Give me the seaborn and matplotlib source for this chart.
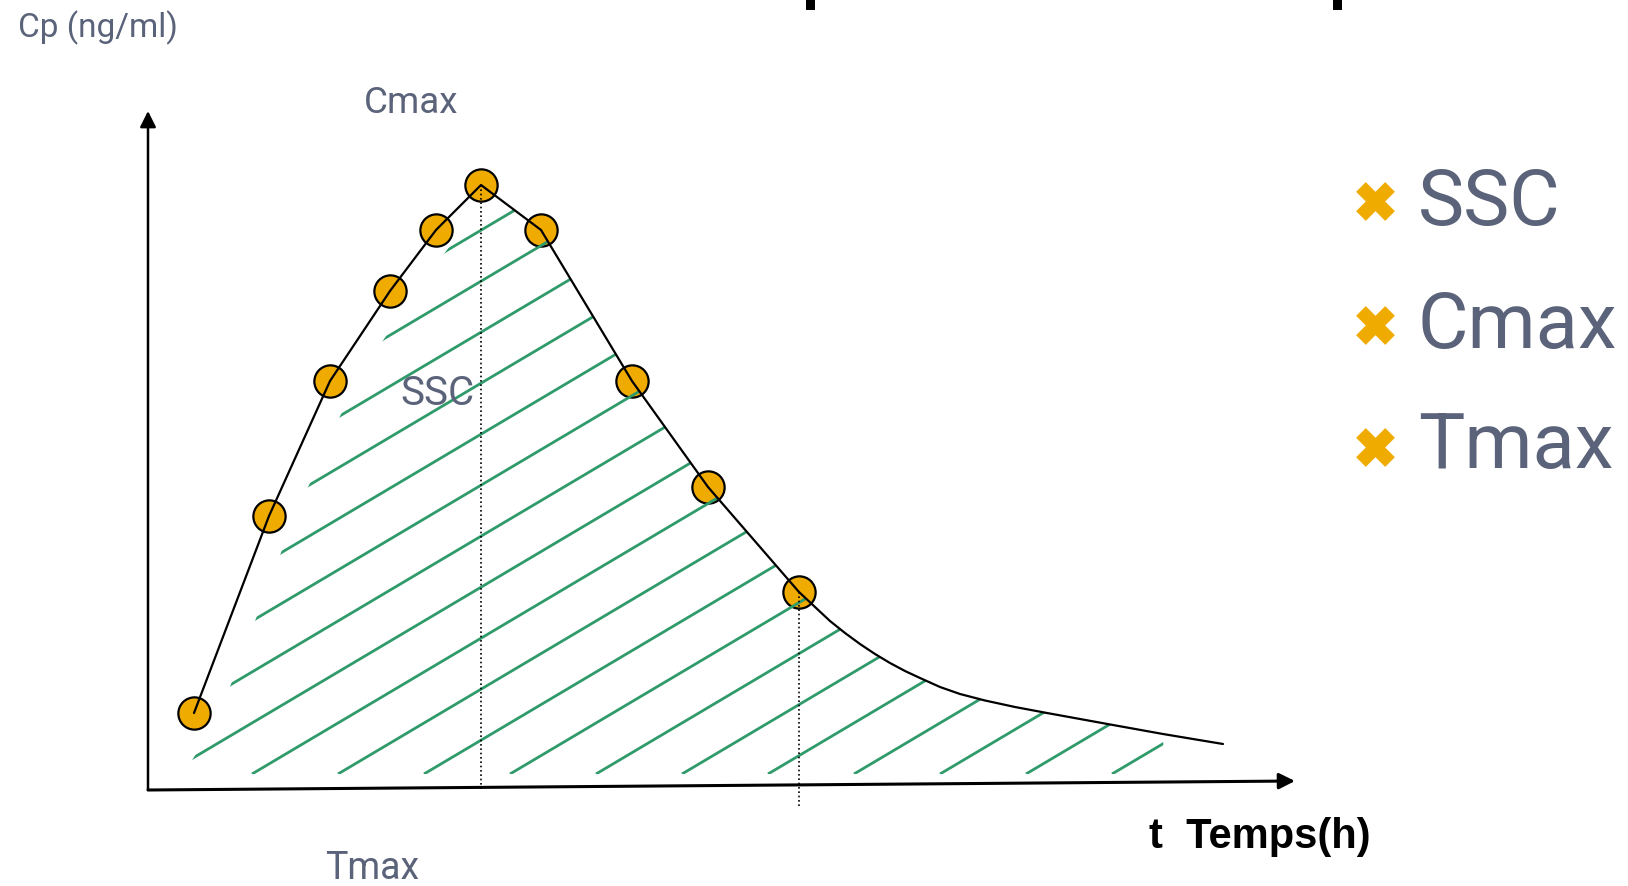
import numpy as np
import pandas as pd
import matplotlib
matplotlib.use("Agg")
import matplotlib.pyplot as plt
from matplotlib.patches import Polygon, Rectangle
import seaborn as sns

# ---------------- data ----------------
time_h = [0.46, 1.21, 1.82, 2.42, 2.88, 3.33, 3.93, 4.84, 5.60, 6.51]
cp_ngml = [7.7, 27.4, 40.9, 49.9, 56.0, 60.5, 56.0, 40.9, 30.3, 19.8]
tail_time_h = [6.67, 6.82, 6.97, 7.12, 7.27, 7.42, 7.57, 7.72, 7.92, 8.12,
               8.37, 8.67, 8.99, 9.32, 9.65, 10.15, 10.45, 10.75]
tail_cp_ngml = [18.3, 16.9, 15.7, 14.6, 13.6, 12.7, 11.9, 11.2, 10.3, 9.6,
                8.95, 8.3, 7.7, 7.1, 6.5, 5.6, 5.1, 4.6]
legend_items = ["SSC", "Cmax", "Tmax"]
y_label = "Cp (ng/ml)"
x_label = "t  Temps(h)"

# ---------------- style ----------------
sns.set_theme(style="white")
plt.rcParams["font.family"] = ["Roboto", "DejaVu Sans"]
SLATE = "#5a6379"
ORANGE = "#f0ab00"
GREEN = "#2f9a6a"

fig = plt.figure(figsize=(16.28, 8.87), dpi=100)
ax = fig.add_axes([0, 0, 1, 1])

df_pts = pd.DataFrame({"t": time_h, "cp": cp_ngml})
df_curve = pd.DataFrame({"t": time_h + tail_time_h, "cp": cp_ngml + tail_cp_ngml})

# ---------------- markers and curve ----------------
sns.scatterplot(data=df_pts, x="t", y="cp", s=540, color=ORANGE,
                edgecolor="black", linewidth=1.6, zorder=2, ax=ax, legend=False)
sns.lineplot(data=df_curve, x="t", y="cp", sort=False, estimator=None,
             color="black", lw=1.6, zorder=4, ax=ax, legend=False)
ax.set_xlim(-1.48, 14.80)
ax.set_ylim(-9.6, 79.1)
ax.axis("off")

# ---------------- hatching under the curve (SSC) ----------------
i_max = int(np.argmax(cp_ngml))
t_max = time_h[i_max]
c_max = cp_ngml[i_max]
base = 1.6
poly_pts = [(0.36, base)]
poly_pts += [(t + 0.26, c) for t, c in zip(time_h[:i_max], cp_ngml[:i_max])]
poly_pts += [(t_max, c_max)]
poly_pts += list(zip(time_h[i_max + 1:], cp_ngml[i_max + 1:]))
poly_pts += [(t, c) for t, c in zip(tail_time_h, tail_cp_ngml) if t <= 10.16]
poly_pts += [(10.16, base)]
clip = Polygon(poly_pts, closed=True, transform=ax.transData,
               facecolor="none", edgecolor="none")
ax.add_patch(clip)
slope = 5.93
for k in range(-14, 13):
    t0 = 0.18 + 0.86 * k
    ln, = ax.plot([t0, t0 + 14], [base, base + slope * 14],
                  color=GREEN, lw=2.0, zorder=3, solid_capstyle="butt")
    ln.set_clip_path(clip)

# dotted guides (Tmax, last sample)
ax.plot([t_max, t_max], [c_max, 0], linestyle=(0, (1, 1.6)), color="black", lw=1.2, zorder=3)
ax.plot([time_h[-1], time_h[-1]], [cp_ngml[-1], -1.6], linestyle=(0, (1, 1.6)),
        color="black", lw=1.2, zorder=3)

# axes arrows
ax.annotate("", xy=(0, 67.9), xytext=(0, 0),
            arrowprops=dict(arrowstyle="-|>", color="black", lw=1.8,
                            mutation_scale=24, shrinkA=0, shrinkB=0))
ax.annotate("", xy=(11.47, 0.9), xytext=(0, 0),
            arrowprops=dict(arrowstyle="-|>", color="black", lw=2.2,
                            mutation_scale=24, shrinkA=0, shrinkB=0))

W, H = 1628.0, 887.0
def fx(px):
    return px / W
def fy(py):
    return 1 - py / H

# labels
ax.text(fx(18), fy(37), y_label, transform=ax.transAxes, fontsize=24,
        color=SLATE, va="baseline", ha="left")
ax.text(fx(364), fy(113), "Cmax", transform=ax.transAxes, fontsize=26.5,
        color=SLATE, va="baseline", ha="left")
ax.text(fx(400), fy(405), "SSC", transform=ax.transAxes, fontsize=29,
        color=SLATE, va="baseline", ha="left", zorder=5)
ax.text(fx(325), fy(879), "Tmax", transform=ax.transAxes, fontsize=27,
        color=SLATE, va="baseline", ha="left")
ax.text(fx(1149), fy(848), x_label, transform=ax.transAxes, fontsize=30,
        color="black", fontweight="bold", va="baseline", ha="left",
        family=["Liberation Sans", "DejaVu Sans"])

# legend-like bullet list
for i, item in enumerate(legend_items):
    yc = [202, 326, 448][i]
    yb = [225, 348, 468][i]
    ax.scatter([fx(1375)], [fy(yc)], transform=ax.transAxes, marker="X",
               s=780, color=ORANGE, linewidths=0, zorder=5)
    ax.text(fx(1418), fy(yb), item, transform=ax.transAxes, fontsize=56,
            color=SLATE, va="baseline", ha="left")

# small black marks at the top edge
for px in (806, 1333):
    ax.add_patch(Rectangle((fx(px), fy(11)), 9 / W, 11 / H, transform=ax.transAxes,
                           facecolor="black", edgecolor="none", clip_on=False))

fig.savefig("out.png", dpi=100, facecolor="white")
